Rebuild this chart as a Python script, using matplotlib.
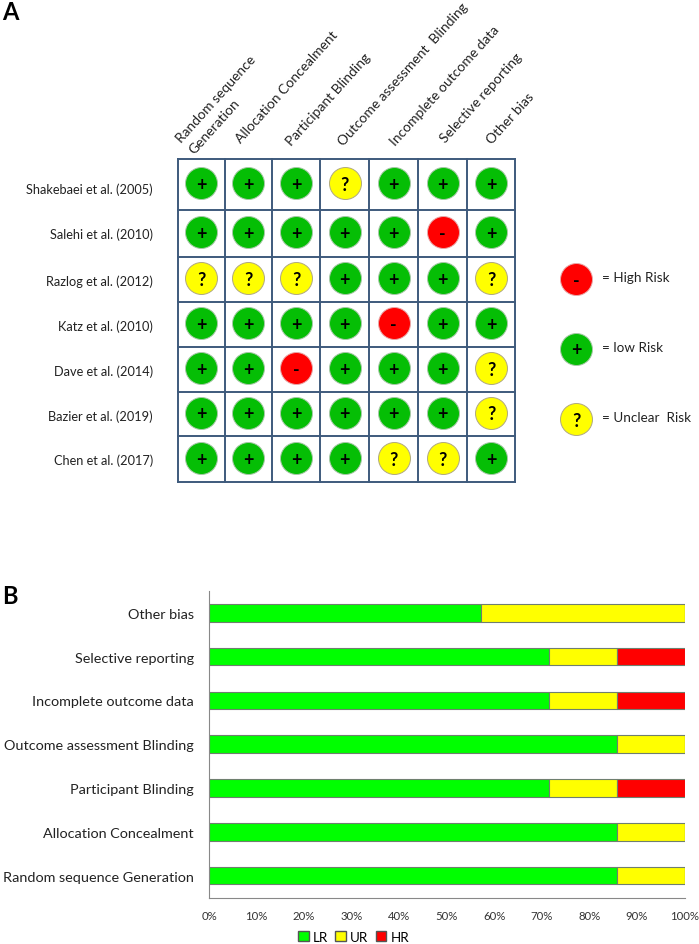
import matplotlib
matplotlib.use('Agg')
import numpy as np
import matplotlib.pyplot as plt
from matplotlib.patches import Patch

plt.rcParams['font.family'] = ['Lato', 'DejaVu Sans']

studies = ['Shakebaei et al. (2005)', 'Salehi et al. (2010)', 'Razlog et al. (2012)',
           'Katz et al. (2010)', 'Dave et al. (2014)', 'Bazier et al. (2019)', 'Chen et al. (2017)']
domains = ['Random sequence', 'Allocation Concealment', 'Participant Blinding',
           'Outcome assessment  Blinding', 'Incomplete outcome data', 'Selective reporting', 'Other bias']
ratings = [
    ['+', '+', '+', '?', '+', '+', '+'],
    ['+', '+', '+', '+', '+', '-', '+'],
    ['?', '?', '?', '+', '+', '+', '?'],
    ['+', '+', '+', '+', '-', '+', '+'],
    ['+', '+', '-', '+', '+', '+', '?'],
    ['+', '+', '+', '+', '+', '+', '?'],
    ['+', '+', '+', '+', '?', '?', '+'],
]
key_symbols = ['-', '+', '?']
key_labels = ['= High Risk', '= low Risk', '= Unclear  Risk']

bar_labels = ['Random sequence Generation', 'Allocation Concealment', 'Participant Blinding',
              'Outcome assessment Blinding', 'Incomplete outcome data', 'Selective reporting', 'Other bias']
lr = [85.7, 85.7, 71.4, 85.7, 71.4, 71.4, 57.1]
ur = [14.3, 14.3, 14.3, 14.3, 14.3, 14.3, 42.9]
hr = [0, 0, 14.3, 0, 14.3, 14.3, 0]

fills = {'+': '#05BE05', '-': '#FF0000', '?': '#FFFF00'}
edges = {'+': '#A8C8A8', '-': '#E8A8A8', '?': '#B0A880'}

W, H = 699, 945
fig = plt.figure(figsize=(W / 100, H / 100), dpi=100)

# panel A is laid out in pixels, the hand drawn grid is not quite even
ax = fig.add_axes([0, 0, 1, 1])
ax.set_xlim(0, W)
ax.set_ylim(H, 0)
ax.axis('off')

x_edges = np.array([178, 224.7, 271.7, 320.3, 369.3, 418.3, 466.7, 515.3])
y_edges = np.array([160, 210.7, 257.7, 303.3, 348, 392.7, 437.3, 482.7])
x_mid = (x_edges[:-1] + x_edges[1:]) / 2
y_mid = (y_edges[:-1] + y_edges[1:]) / 2 - 1.5

for x in x_edges:
    ax.plot([x, x], [y_edges[0], y_edges[-1]], color='#3E5A7C', lw=1.4)
for y in y_edges:
    ax.plot([x_edges[0], x_edges[-1]], [y, y], color='#3E5A7C', lw=1.4)


def draw_mark(x, y, sym):
    ax.scatter([x], [y], s=530, c=fills[sym], edgecolors=edges[sym], linewidths=0.7, zorder=3)
    ax.text(x, y + 1.5, sym, ha='center', va='center', fontsize=13, fontweight='bold',
            color='black', zorder=4)


row_shift = [6, 2.5, 3, 3, 3, 3.5, 2.5]
for i, row in enumerate(ratings):
    for j, sym in enumerate(row):
        draw_mark(x_mid[j], y_mid[i], sym)
    ax.text(153, y_mid[i] + row_shift[i], studies[i], ha='right', va='center', fontsize=9.2, color='#222222')

col_x = [179, 238, 289, 341, 393, 443, 489]
col_y = [141, 141, 144, 144, 144, 141, 142]
for j, label in enumerate(domains):
    ax.text(col_x[j], col_y[j], label, rotation=48, rotation_mode='anchor', ha='left', va='center',
            fontsize=10, color='#222222')
# second line of the first header
ax.text(191, 152, 'Generation', rotation=48, rotation_mode='anchor', ha='left', va='center',
        fontsize=10, color='#222222')

key_y = [279.7, 349.5, 420]
for y, sym, label in zip(key_y, key_symbols, key_labels):
    draw_mark(576, y, sym)
    ax.text(602, y - 2, label, ha='left', va='center', fontsize=9.7, color='#222222')

ax.text(2, 13, 'A', fontsize=17, fontweight='bold', ha='left', va='center', color='black')
ax.text(2, 596, 'B', fontsize=17, fontweight='bold', ha='left', va='center', color='black')

# panel B
ax2 = fig.add_axes([209 / W, 1 - 898.5 / H, 475.5 / W, 306.5 / H])
pos = np.arange(len(bar_labels))
bar_edge = '#6F7F6F'
ax2.barh(pos, lr, height=0.4, color='#00FF00', edgecolor=bar_edge, linewidth=0.8, label='LR')
ax2.barh(pos, ur, height=0.4, left=lr, color='#FFFF00', edgecolor=bar_edge, linewidth=0.8, label='UR')
ax2.barh(pos, hr, height=0.4, left=np.add(lr, ur), color='#FF0000', edgecolor=bar_edge, linewidth=0.8, label='HR')

ax2.set_xlim(0, 100)
ax2.set_ylim(-0.5, 6.5)
ax2.set_yticks(pos)
ax2.set_yticklabels(bar_labels, fontsize=10.4, color='#222222')
ax2.set_xticks(np.arange(0, 101, 10))
ax2.set_xticklabels([f'{v}%' for v in range(0, 101, 10)], fontsize=8.2, color='#333333')
ax2.tick_params(axis='y', length=0, pad=11)
ax2.tick_params(axis='x', length=0, pad=9)
ax2.spines['top'].set_visible(False)
ax2.spines['right'].set_visible(False)
ax2.spines['left'].set_color('#888888')
ax2.spines['bottom'].set_color('#888888')

handles = [Patch(facecolor='#00FF00', edgecolor='#555555', label='LR'),
           Patch(facecolor='#FFFF00', edgecolor='#555555', label='UR'),
           Patch(facecolor='#FF0000', edgecolor='#555555', label='HR')]
fig.legend(handles=handles, loc='center', bbox_to_anchor=(353.5 / W, 1 - 938 / H), ncol=3, frameon=False,
           fontsize=9.6, handlelength=0.8, handleheight=0.8, handletextpad=0.3, columnspacing=0.55,
           borderpad=0)

plt.savefig('out.png', dpi=100)
